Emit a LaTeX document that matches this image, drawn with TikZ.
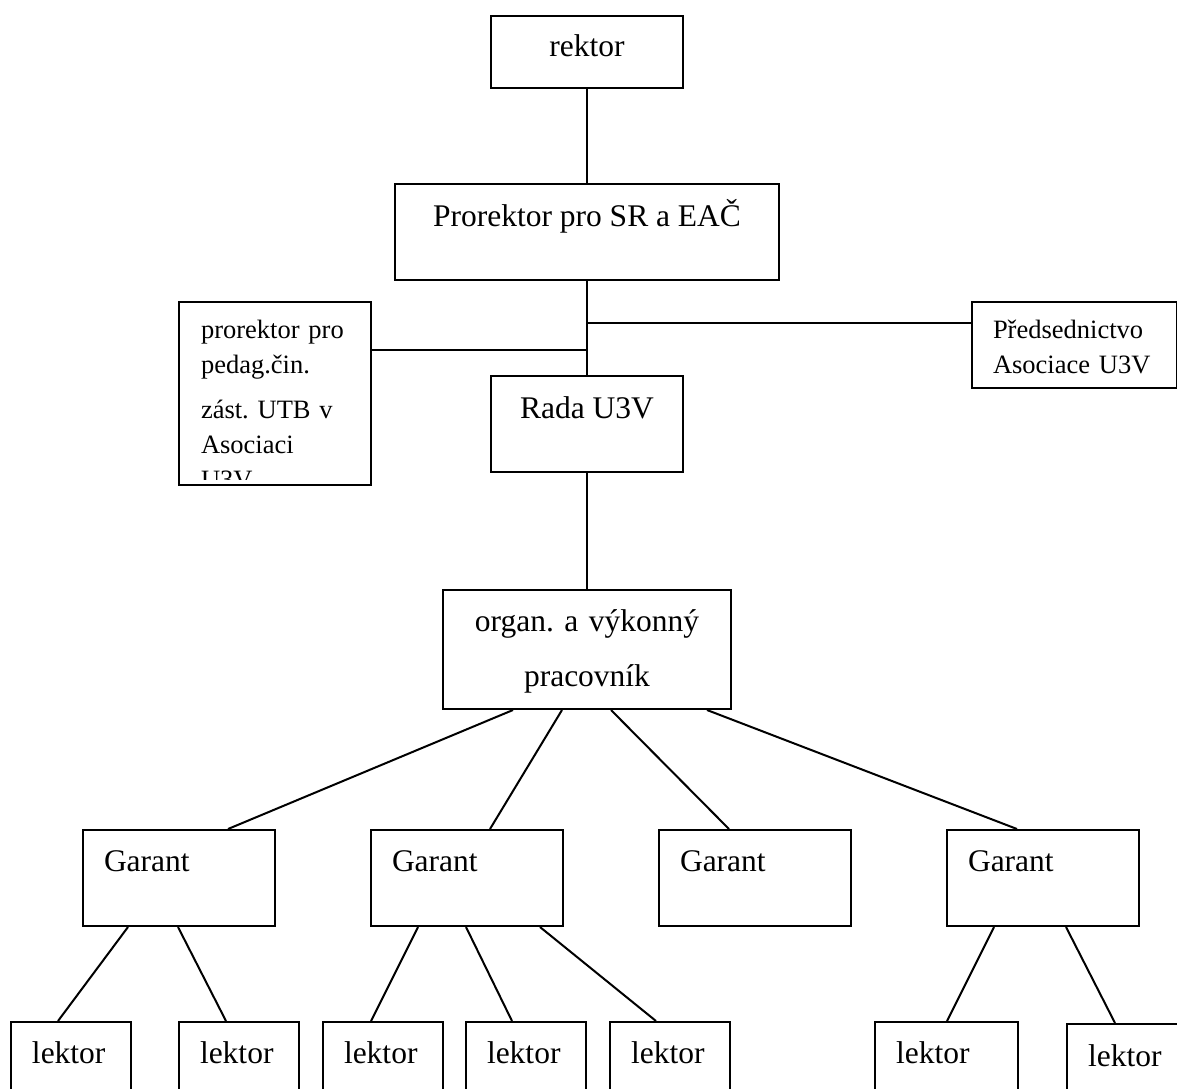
\documentclass[tikz,border=0pt]{standalone}
\usepackage{fontspec}
\setmainfont{Liberation Serif}
\usetikzlibrary{positioning, calc}
\frenchspacing

\begin{document}
\begin{tikzpicture}[x=0.5pt, y=-0.5pt,
    box/.style={draw, line width=1pt, anchor=north west, inner ysep=0pt, font=\fontsize{15.75pt}{18pt}\selectfont},
    lbox/.style={box, text width=#1, inner xsep=10.5pt, align=left, text height=20.5pt, text depth=27.5pt},
    lektorbox/.style={lbox=#1, text depth=30pt},
    sidebox/.style={box, inner xsep=11pt, align=left, font=\fontsize{13.25pt}{17.5pt}\selectfont},
    link/.style={line width=1pt}]

    \useasboundingbox (0,0) rectangle (1177,1088);

    % Vedeni
    \node[box, minimum width=96pt, text height=20pt, text depth=16pt] (rektor) at (490,15) {rektor};
    \node[box, minimum width=192pt, text height=21pt, text depth=27pt] (prorektor) at (394,183) {Prorektor pro SR a EAČ};
    \node[box, minimum width=96pt, text height=21pt, text depth=27pt] (rada) at (490,375) {Rada U3V};
    \node[box, text width=144pt, inner xsep=0pt, align=center, text height=20.5pt, text depth=39pt,
          font=\fontsize{15.75pt}{27.5pt}\selectfont] (organ) at (442,589) {organ. a výkonný\\ pracovník};

    % Bocni
    \node[sidebox, text width=74pt, text height=18pt, text depth=73.5pt] (zastupce) at (178,301) {};
    \begin{scope}
        \clip (zastupce.north west) rectangle ($(zastupce.south east)+(0,-7)$);
        \node[sidebox, draw=none, text width=74pt, text height=18pt, text depth=73.5pt] (zastupcetext) at (zastupce.north west)
            {\makebox[74pt][s]{prorektor pro}\\ pedag.čin.\\[5pt] \makebox[74pt][s]{zást. UTB v}\\ Asociaci\\ U3V};
    \end{scope}
    \node[sidebox, text width=81.5pt, inner xsep=10.5pt, text height=18pt, text depth=25pt] (predsed) at (971,301)
        {Předsednictvo\\ Asociace U3V};

    % Garanti
    \node[lbox=75pt] (garant1) at (82,829) {Garant};
    \node[lbox=75pt, right=47pt of garant1] (garant2) {Garant};
    \node[lbox=75pt, right=47pt of garant2] (garant3) {Garant};
    \node[lbox=75pt, right=47pt of garant3] (garant4) {Garant};

    % Lektori
    \node[lektorbox=39pt] (lektor1) at (10,1021) {lektor};
    \node[lektorbox=39pt, right=23pt of lektor1] (lektor2) {lektor};
    \node[lektorbox=39pt, right=11pt of lektor2] (lektor3) {lektor};
    \node[lektorbox=39pt, right=10.5pt of lektor3] (lektor4) {lektor};
    \node[lektorbox=39pt, right=11pt of lektor4] (lektor5) {lektor};
    \node[lektorbox=50.5pt] (lektor6) at (874,1021) {lektor};
    \node[lektorbox=37pt, text height=21pt] (lektor7) at (1066,1023) {lektor};

    % Spojnice
    \coordinate (jr) at ($(prorektor.south)!0.45!(rada.north)$);
    \coordinate (jl) at ($(prorektor.south)!0.73!(rada.north)$);
    \draw[link] (rektor) -- (prorektor);
    \draw[link] (prorektor) -- (rada);
    \draw[link] (jr) -- (jr -| predsed.west);
    \draw[link] (jl) -- (jl -| zastupce.east);
    \draw[link] (rada) -- (organ);

    \draw[link] ($(organ.south west)+(71,0)$) -- ($(garant1.north west)+(146,0)$);
    \draw[link] ($(organ.south west)+(120,0)$) -- ($(garant2.north west)+(120,0)$);
    \draw[link] ($(organ.south west)+(169,0)$) -- ($(garant3.north west)+(71,0)$);
    \draw[link] ($(organ.south west)+(265,0)$) -- ($(garant4.north west)+(71,0)$);

    \draw[link] ($(garant1.south west)+(46,0)$) -- ($(lektor1.north west)+(48,0)$);
    \draw[link] ($(garant1.south west)+(96,0)$) -- ($(lektor2.north west)+(48,0)$);
    \draw[link] ($(garant2.south west)+(48,0)$) -- ($(lektor3.north west)+(49,0)$);
    \draw[link] ($(garant2.south west)+(96,0)$) -- ($(lektor4.north west)+(47,0)$);
    \draw[link] ($(garant2.south west)+(170,0)$) -- ($(lektor5.north west)+(47,0)$);
    \draw[link] ($(garant4.south west)+(48,0)$) -- ($(lektor6.north west)+(73,0)$);
    \draw[link] ($(garant4.south west)+(120,0)$) -- ($(lektor7.north west)+(49,0)$);

\end{tikzpicture}
\end{document}
